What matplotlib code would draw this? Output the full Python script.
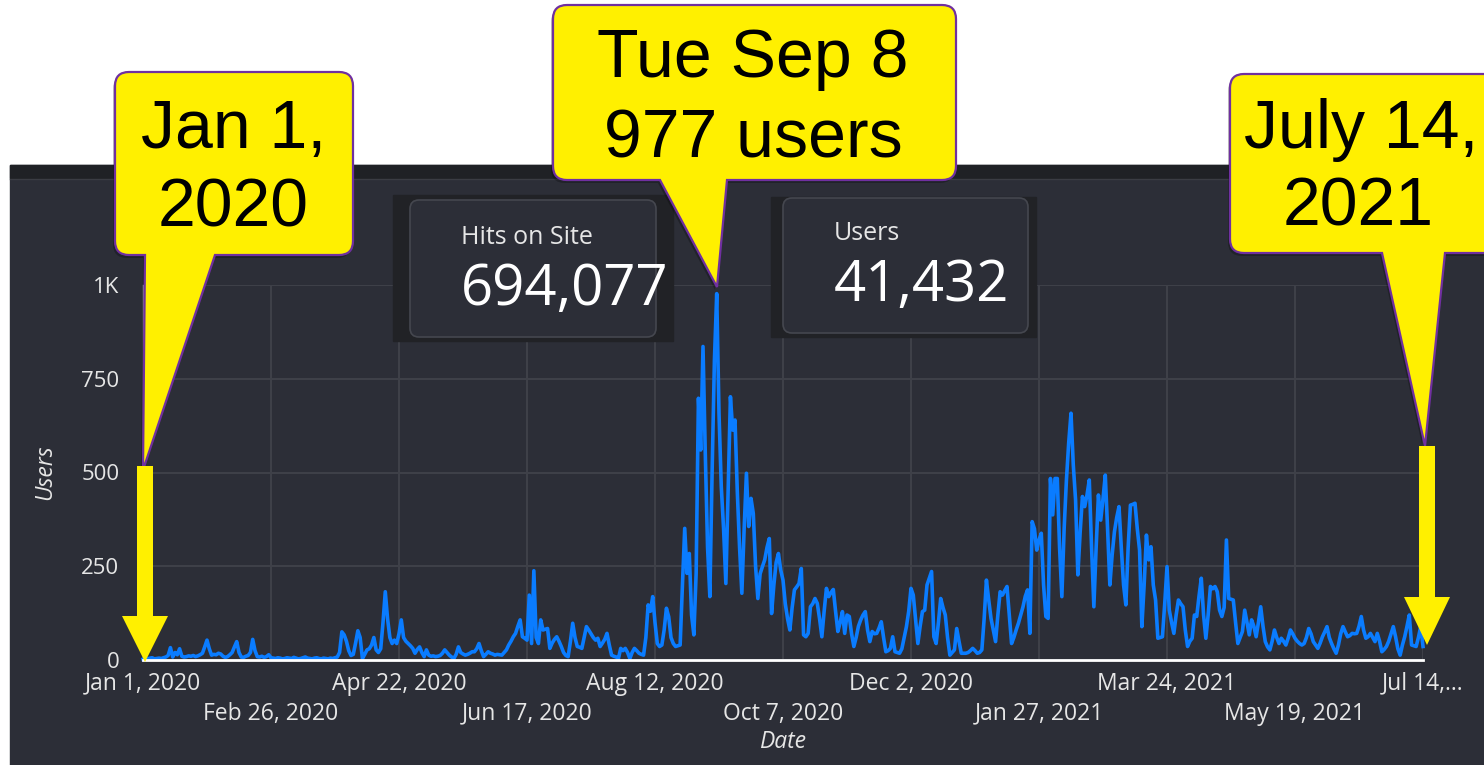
import numpy as np
import pandas as pd
import matplotlib
matplotlib.use("Agg")
import matplotlib.pyplot as plt
from matplotlib.patches import Rectangle, FancyBboxPatch, Polygon, PathPatch
from matplotlib.path import Path

W, H = 1484, 765

# daily users, Jan 1 2020 .. Jul 14 2021
users = [
    2, 4, 3, 5, 6, 3, 4, 5, 4, 6,
    8, 12, 33, 8, 20, 14, 30, 10, 8, 9,
    11, 10, 12, 9, 11, 14, 18, 35, 53, 30,
    13, 15, 14, 18, 16, 10, 7, 9, 14, 20,
    35, 49, 20, 8, 7, 10, 12, 20, 55, 25,
    9, 8, 10, 7, 9, 14, 6, 5, 4, 6,
    5, 3, 4, 6, 5, 4, 7, 5, 3, 4,
    6, 8, 5, 4, 3, 5, 6, 4, 3, 5,
    4, 3, 5, 4, 6, 8, 20, 75, 67, 50,
    25, 12, 15, 45, 78, 60, 4, 15, 27, 30,
    40, 60, 27, 20, 30, 100, 182, 110, 60, 44,
    53, 44, 70, 107, 60, 50, 44, 38, 31, 18,
    28, 35, 20, 9, 27, 13, 10, 11, 9, 10,
    12, 18, 27, 20, 13, 8, 4, 15, 35, 20,
    16, 13, 15, 18, 22, 22, 30, 44, 25, 9,
    15, 22, 18, 16, 13, 15, 14, 13, 20, 27,
    40, 50, 62, 71, 90, 107, 62, 58, 53, 173,
    44, 238, 60, 44, 107, 80, 82, 84, 31, 45,
    55, 62, 50, 36, 20, 12, 9, 50, 98, 60,
    36, 34, 31, 60, 89, 80, 70, 60, 53, 58,
    36, 45, 55, 71, 40, 13, 10, 8, 4, 31,
    25, 31, 20, 4, 20, 31, 25, 18, 15, 13,
    60, 147, 130, 169, 100, 44, 36, 40, 80, 138,
    115, 60, 44, 36, 38, 40, 200, 351, 231, 284,
    120, 67, 231, 698, 560, 836, 551, 300, 169, 507,
    800, 977, 658, 462, 350, 204, 450, 702, 613, 640,
    450, 300, 178, 350, 498, 356, 431, 391, 250, 164,
    230, 249, 267, 300, 324, 124, 200, 260, 284, 240,
    213, 150, 110, 80, 140, 187, 195, 204, 244, 67,
    62, 71, 142, 150, 164, 151, 110, 62, 130, 191,
    169, 180, 188, 130, 76, 100, 129, 71, 120, 116,
    70, 36, 60, 90, 107, 120, 129, 80, 49, 76,
    70, 71, 85, 102, 60, 22, 25, 31, 62, 22,
    20, 18, 30, 60, 89, 130, 191, 173, 110, 44,
    90, 129, 133, 200, 218, 236, 62, 44, 100, 164,
    140, 120, 60, 13, 20, 27, 84, 50, 18, 18,
    18, 20, 25, 31, 25, 18, 20, 27, 110, 213,
    160, 111, 80, 49, 120, 182, 173, 185, 196, 120,
    44, 60, 80, 98, 120, 142, 170, 187, 71, 369,
    350, 293, 320, 338, 200, 116, 111, 484, 387, 484,
    484, 300, 169, 350, 480, 580, 658, 520, 427, 227,
    340, 436, 409, 440, 480, 300, 142, 300, 440, 373,
    430, 493, 350, 200, 280, 342, 380, 409, 300, 200,
    147, 300, 413, 415, 418, 350, 293, 89, 200, 333,
    267, 302, 200, 160, 58, 60, 62, 150, 249, 133,
    100, 71, 120, 160, 150, 142, 80, 36, 50, 58,
    120, 116, 170, 218, 120, 58, 120, 196, 190, 196,
    182, 133, 116, 140, 320, 164, 162, 160, 100, 44,
    60, 76, 133, 100, 67, 107, 90, 62, 100, 142,
    90, 49, 35, 27, 50, 80, 60, 44, 58, 50,
    40, 58, 80, 70, 58, 50, 44, 40, 44, 60,
    84, 70, 49, 40, 31, 45, 62, 75, 89, 60,
    44, 30, 18, 40, 70, 89, 75, 62, 65, 71,
    70, 71, 90, 116, 80, 58, 62, 71, 60, 49,
    71, 50, 22, 28, 36, 50, 70, 89, 62, 30,
    13, 40, 62, 90, 120, 40, 38, 36, 60, 89,
    36,
]
dates = pd.date_range("2020-01-01", periods=len(users), freq="D")

major_ticks = pd.to_datetime(["2020-01-01", "2020-04-22", "2020-08-12",
                              "2020-12-02", "2021-03-24", "2021-07-14"])
major_labels = ["Jan 1, 2020", "Apr 22, 2020", "Aug 12, 2020",
                "Dec 2, 2020", "Mar 24, 2021", "Jul 14,\u2026"]
minor_ticks = pd.to_datetime(["2020-02-26", "2020-06-17", "2020-10-07",
                              "2021-01-27", "2021-05-19"])
minor_labels = ["Feb 26, 2020", "Jun 17, 2020", "Oct 7, 2020",
                "Jan 27, 2021", "May 19, 2021"]
y_ticks = [0, 250, 500, 750, 1000]
y_labels = ["0", "250", "500", "750", "1K"]

hits_total = "694,077"
users_total = "41,432"
peak_label = "Tue Sep 8"
peak_users = max(users)

PANEL, STRIP, CARD_OUT = "#2c2e37", "#1f2125", "#212226"
GRID, TXT = "#3e4048", "#e6e6e6"
LINE = "#0a7cff"
YELLOW, PURPLE = "#fff000", "#7030a0"

plt.rcParams["font.family"] = ["Open Sans", "DejaVu Sans"]

fig = plt.figure(figsize=(W / 100, H / 100), dpi=100, facecolor="white")

# ── background panel ──
bg = fig.add_axes([0, 0, 1, 1], zorder=0)
bg.set_xlim(0, W); bg.set_ylim(H, 0); bg.axis("off")
bg.add_patch(Rectangle((10, 165), W - 10, H - 165, color=PANEL))
bg.add_patch(Rectangle((10, 165), W - 10, 13, color=STRIP))
bg.plot([10, W], [178.5, 178.5], color="#3a3c43", lw=1)

# ── line chart ──
ax = fig.add_axes([143 / W, 1 - 660 / H, 1280 / W, 375 / H], zorder=1)
ax.set_facecolor("none")
ax.plot(dates, users, color=LINE, lw=2.6, clip_on=False, zorder=3)
ax.set_xlim(dates[0], dates[-1])
ax.set_ylim(0, 1000)

ax.set_xticks(major_ticks)
ax.set_xticklabels(major_labels)
ax.set_xticks(minor_ticks, minor=True)
ax.set_xticklabels(minor_labels, minor=True)
ax.set_yticks(y_ticks)
ax.set_yticklabels(y_labels)
ax.tick_params(axis="x", which="major", length=0, pad=8.5, labelsize=16.5, colors=TXT)
ax.tick_params(axis="x", which="minor", length=0, pad=30, labelsize=16.5, colors=TXT)
ax.tick_params(axis="y", length=0, pad=17, labelsize=16, colors=TXT)
ax.grid(True, which="both", color=GRID, lw=1.5)
ax.set_axisbelow(True)

for s in ["top", "right"]:
    ax.spines[s].set_visible(False)
ax.spines["left"].set_color("#b8b8b8")
ax.spines["left"].set_linewidth(1)
ax.spines["bottom"].set_color("white")
ax.spines["bottom"].set_linewidth(2)
ax.spines["bottom"].set_zorder(4)

ax.set_xlabel("Date", style="italic", color=TXT, fontsize=16.5, va="center")
ax.xaxis.set_label_coords(0.5, (660 - 742) / 375)
ax.set_ylabel("Users", style="italic", color=TXT, fontsize=16.5, va="center", ha="center")
ax.yaxis.set_label_coords((45 - 143) / 1280, 0.5)

# ── scorecards, callouts and arrows on top ──
ov = fig.add_axes([0, 0, 1, 1], zorder=2)
ov.set_xlim(0, W); ov.set_ylim(H, 0); ov.axis("off")
ov.patch.set_alpha(0)


def scorecard(x0, y0, x1, y1, ix0, iy0, ix1, iy1, title, value, tx, ty, vy):
    ov.add_patch(Rectangle((x0, y0), x1 - x0, y1 - y0, color=CARD_OUT))
    ov.add_patch(FancyBboxPatch((ix0, iy0), ix1 - ix0, iy1 - iy0,
                                boxstyle="round,pad=0,rounding_size=9",
                                fc=PANEL, ec="#45474f", lw=1.2))
    ov.text(tx, ty, title, color=TXT, fontsize=18, ha="left", va="center")
    ov.text(tx, vy, value, color="white", fontsize=40.5, ha="left", va="center")


scorecard(393, 195, 673, 341, 410, 200, 656, 337,
          "Hits on Site", hits_total, 461, 237, 290)
scorecard(771, 197, 1036, 337, 783, 198, 1028, 333,
          "Users", users_total, 834, 233, 286)


def callout(x0, y0, x1, y1, base_l, base_r, tip, r=14):
    verts = [(x0 + r, y0), (x1 - r, y0), (x1, y0), (x1, y0 + r),
             (x1, y1 - r), (x1, y1), (x1 - r, y1),
             (base_r, y1), tip, (base_l, y1),
             (x0 + r, y1), (x0, y1), (x0, y1 - r),
             (x0, y0 + r), (x0, y0), (x0 + r, y0), (x0 + r, y0)]
    codes = [Path.MOVETO, Path.LINETO, Path.CURVE3, Path.CURVE3,
             Path.LINETO, Path.CURVE3, Path.CURVE3,
             Path.LINETO, Path.LINETO, Path.LINETO,
             Path.LINETO, Path.CURVE3, Path.CURVE3,
             Path.LINETO, Path.CURVE3, Path.CURVE3, Path.CLOSEPOLY]
    shadow = [(vx - 2, vy + 3) for vx, vy in verts]
    ov.add_patch(PathPatch(Path(shadow, codes), fc="black", ec="none", alpha=0.25))
    ov.add_patch(PathPatch(Path(verts, codes), fc=YELLOW, ec=PURPLE, lw=1.6))


def arrow(x, top, head_y, tip_y, shaft=16, head=46):
    verts = [(x - shaft / 2, top), (x + shaft / 2, top), (x + shaft / 2, head_y),
             (x + head / 2, head_y), (x, tip_y), (x - head / 2, head_y),
             (x - shaft / 2, head_y)]
    ov.add_patch(Polygon(verts, closed=True, fc=YELLOW, ec="none", zorder=5))


CALLOUT_FONT = dict(family=["Liberation Sans", "DejaVu Sans"], fontsize=49,
                    color="black", ha="center", va="baseline")

callout(115, 72, 353, 255, 145, 215, (143, 470))
ov.text(234, 148, "Jan 1,", **CALLOUT_FONT)
ov.text(233, 226, "2020", **CALLOUT_FONT)
arrow(145, 466, 616, 662)

callout(553, 5, 956, 180, 660, 727, (717, 287))
ov.text(753, 77, peak_label, **CALLOUT_FONT)
ov.text(753, 157, f"{peak_users} users", **CALLOUT_FONT)

callout(1230, 74, 1520, 253, 1382, 1445, (1425, 446))
ov.text(1361, 148, "July 14,", **CALLOUT_FONT)
ov.text(1358, 225, "2021", **CALLOUT_FONT)
arrow(1427, 446, 597, 645)

fig.savefig("out.png", dpi=100, facecolor="white")
